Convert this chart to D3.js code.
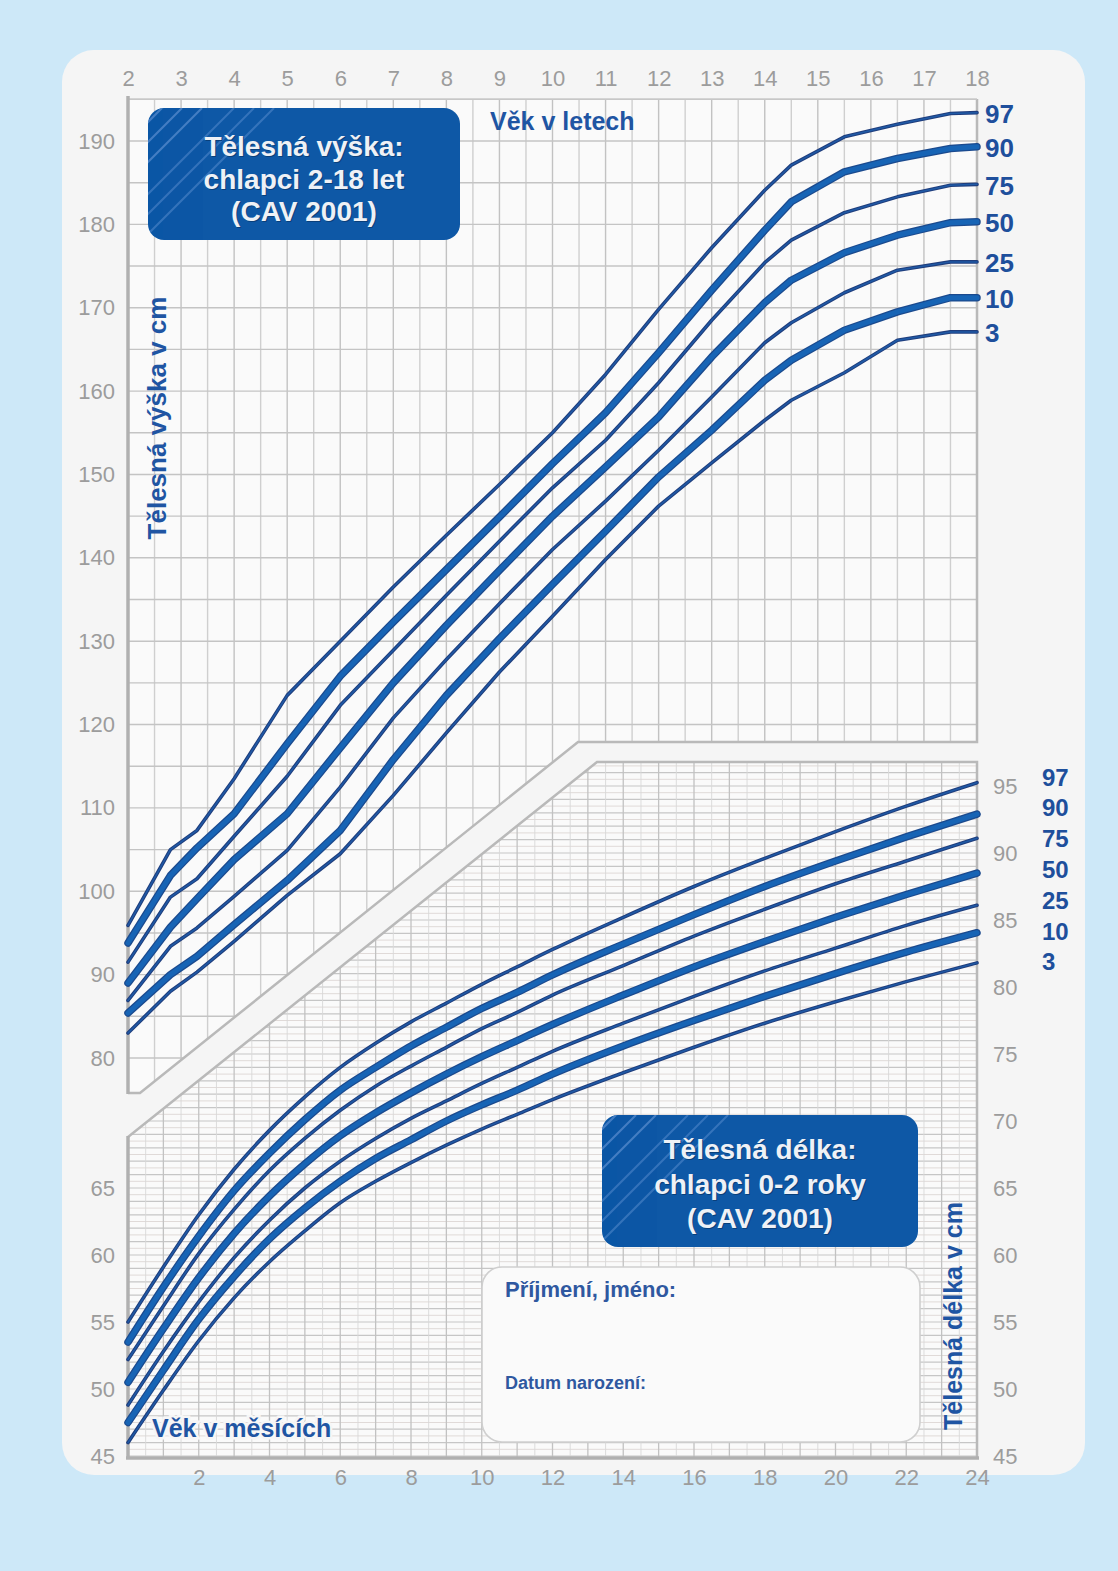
<!DOCTYPE html>
<html><head><meta charset="utf-8">
<script src="https://cdn.jsdelivr.net/npm/d3@7"></script>
<style>
html,body{margin:0;padding:0;background:#cde8f8;}
svg{display:block;}
text{font-family:"Liberation Sans",Arial,Helvetica,sans-serif;}
</style></head><body>
<svg id="chart" width="1118" height="1571"></svg>
<script>
// ---------- DATA ----------
const percentiles = ["97", "90", "75", "50", "25", "10", "3"];
const thickPercentiles = ["90", "50", "10"];

const yearTicks = [2, 3, 4, 5, 6, 7, 8, 9, 10, 11, 12, 13, 14, 15, 16, 17, 18];
const heightTicks = [80, 90, 100, 110, 120, 130, 140, 150, 160, 170, 180, 190];
const monthTicks = [2, 4, 6, 8, 10, 12, 14, 16, 18, 20, 22, 24];
const lengthTicksLeft = [45, 50, 55, 60, 65];
const lengthTicksRight = [45, 50, 55, 60, 65, 70, 75, 80, 85, 90, 95];

// Upper chart: height (cm) by age (years), boys 2-18
const upperAges = [2, 2.8, 3.3, 4, 5, 6, 7, 8, 9, 10, 11, 12, 13, 14, 14.5, 15.5, 16.5, 17.5, 18];
const upperP97 = [95.9, 105.0, 107.3, 113.5, 123.5, 130.0, 136.5, 142.7, 148.8, 155.0, 162.0, 169.8, 177.2, 184.1, 187.1, 190.5, 192.0, 193.3, 193.4];
const upperP90 = [93.8, 101.9, 105.2, 109.3, 117.7, 125.8, 132.3, 138.6, 144.9, 151.3, 157.4, 164.6, 172.1, 179.3, 182.7, 186.3, 187.9, 189.1, 189.3];
const upperP75 = [91.5, 99.3, 101.5, 106.6, 113.8, 122.3, 128.9, 135.5, 142.0, 148.4, 154.1, 161.0, 168.5, 175.4, 178.1, 181.4, 183.3, 184.7, 184.8];
const upperP50 = [89.0, 95.7, 99.1, 103.8, 109.3, 117.2, 125.0, 131.9, 138.5, 145.0, 150.9, 156.9, 164.1, 170.6, 173.3, 176.6, 178.7, 180.2, 180.3];
const upperP25 = [86.9, 93.4, 95.6, 99.4, 104.9, 112.5, 120.8, 127.8, 134.5, 141.0, 146.8, 152.9, 159.3, 165.8, 168.2, 171.8, 174.5, 175.5, 175.5];
const upperP10 = [85.4, 90.0, 92.2, 96.0, 101.3, 107.3, 115.8, 123.5, 130.3, 136.8, 143.2, 149.7, 155.3, 161.3, 163.7, 167.3, 169.5, 171.2, 171.2];
const upperP3  = [83.0, 88.0, 90.3, 94.0, 99.5, 104.5, 111.5, 119.0, 126.3, 133.0, 139.8, 146.2, 151.4, 156.5, 158.9, 162.2, 166.1, 167.1, 167.1];

// Lower chart: length (cm) by age (months), boys 0-24
const lowerMonths = [0, 1, 2, 3, 4, 5, 6, 7, 8, 9, 10, 11, 12, 14, 16, 18, 20, 22, 24];
const lowerP97 = [55.0, 59.1, 63.0, 66.4, 69.3, 71.8, 74.0, 75.8, 77.4, 78.8, 80.2, 81.5, 82.8, 85.2, 87.5, 89.6, 91.6, 93.5, 95.25];
const lowerP90 = [53.5, 57.6, 61.4, 64.8, 67.6, 70.1, 72.3, 74.0, 75.6, 77.0, 78.4, 79.6, 80.9, 83.2, 85.4, 87.5, 89.4, 91.2, 92.9];
const lowerP75 = [52.2, 56.2, 60.1, 63.4, 66.3, 68.7, 70.8, 72.6, 74.1, 75.5, 76.9, 78.1, 79.4, 81.6, 83.8, 85.8, 87.7, 89.4, 91.1];
const lowerP50 = [50.5, 54.5, 58.3, 61.6, 64.4, 66.8, 68.9, 70.6, 72.1, 73.5, 74.8, 76.0, 77.2, 79.4, 81.5, 83.4, 85.2, 86.9, 88.5];
const lowerP25 = [48.8, 52.8, 56.5, 59.8, 62.6, 65.0, 67.0, 68.7, 70.2, 71.5, 72.8, 74.0, 75.2, 77.3, 79.3, 81.2, 82.9, 84.6, 86.1];
const lowerP10 = [47.5, 51.4, 55.2, 58.4, 61.2, 63.5, 65.5, 67.2, 68.6, 70.0, 71.2, 72.3, 73.5, 75.6, 77.5, 79.3, 81.0, 82.6, 84.05];
const lowerP3  = [46.0, 49.9, 53.6, 56.8, 59.5, 61.8, 63.9, 65.5, 66.9, 68.2, 69.4, 70.5, 71.6, 73.6, 75.5, 77.3, 78.9, 80.4, 81.8];

const upperSeries = [upperP97, upperP90, upperP75, upperP50, upperP25, upperP10, upperP3];
const lowerSeries = [lowerP97, lowerP90, lowerP75, lowerP50, lowerP25, lowerP10, lowerP3];

// ---------- LAYOUT ----------
const W = 1118, H = 1571;
const svg = d3.select("#chart");
const FONT = '"Liberation Sans",Arial,Helvetica,sans-serif';
const BLUE_TXT = "#1f55a3";
const GREY_TXT = "#9c9c9c";

const xU = d3.scaleLinear().domain([2, 18]).range([128, 977]);
const yU = d3.scaleLinear().domain([80, 190]).range([1058, 141]);
const xL = d3.scaleLinear().domain([0, 24]).range([128, 977]);
const yL = d3.scaleLinear().domain([45, 95]).range([1456, 786]);

const upperPoly = [[128, 99], [977, 99], [977, 742], [578, 742], [140, 1093], [128, 1093]];
const lowerPoly = [[128, 1137], [597, 762], [977, 762], [977, 1457], [128, 1457]];

// background
svg.append("rect").attr("width", W).attr("height", H).attr("fill", "#cde8f8");
svg.append("rect").attr("x", 62).attr("y", 50).attr("width", 1023).attr("height", 1425)
  .attr("rx", 32).attr("fill", "#f5f5f5");

const defs = svg.append("defs");
defs.append("clipPath").attr("id", "clipU").append("polygon")
  .attr("points", upperPoly.map(p => p.join(",")).join(" "));
defs.append("clipPath").attr("id", "clipL").append("polygon")
  .attr("points", lowerPoly.map(p => p.join(",")).join(" "));

// ---------- UPPER GRID ----------
const gU = svg.append("g").attr("clip-path", "url(#clipU)");
gU.append("polygon").attr("points", upperPoly.map(p => p.join(",")).join(" ")).attr("fill", "#fafafa");
d3.range(2, 18.001, 0.5).forEach(a => {
  gU.append("line").attr("x1", xU(a)).attr("x2", xU(a)).attr("y1", 95).attr("y2", 1100)
    .attr("stroke", Number.isInteger(a) ? "#c2c2c2" : "#cfcfcf").attr("stroke-width", 1.4);
});
d3.range(75, 195.001, 5).forEach(h => {
  gU.append("line").attr("x1", 120).attr("x2", 980).attr("y1", yU(h)).attr("y2", yU(h))
    .attr("stroke", "#c4c4c4").attr("stroke-width", 1.4);
});

// ---------- LOWER GRID ----------
const gL = svg.append("g").attr("clip-path", "url(#clipL)");
gL.append("polygon").attr("points", lowerPoly.map(p => p.join(",")).join(" ")).attr("fill", "#fafafa");
d3.range(45, 97.001, 0.5).forEach(c => {
  const major = Number.isInteger(c);
  gL.append("line").attr("x1", 120).attr("x2", 980).attr("y1", yL(c)).attr("y2", yL(c))
    .attr("stroke", major ? "#c6c6c6" : "#dcd6d4").attr("stroke-width", major ? 1.2 : 0.9);
});
d3.range(0, 24.001, 0.5).forEach(m => {
  const major = Number.isInteger(m);
  gL.append("line").attr("x1", xL(m)).attr("x2", xL(m)).attr("y1", 755).attr("y2", 1460)
    .attr("stroke", major ? "#c2c2c2" : "#d8d8d8").attr("stroke-width", major ? 1.3 : 0.9);
});

// ---------- BORDERS ----------
const border = svg.append("g").attr("fill", "none").attr("stroke", "#b9b9b9");
border.append("polyline").attr("points", "977,99 977,742 578,742 140,1093 128,1093").attr("stroke-width", 2.5);
border.append("polyline").attr("points", "128,1137 597,762 977,762 977,1457").attr("stroke-width", 2.5);
border.append("line").attr("x1", 128).attr("x2", 977).attr("y1", 99).attr("y2", 99).attr("stroke-width", 1.3).attr("stroke", "#c8c8c8");
border.append("line").attr("x1", 128).attr("x2", 128).attr("y1", 96).attr("y2", 1094).attr("stroke-width", 3.5).attr("stroke", "#b0b0b0");
border.append("line").attr("x1", 128).attr("x2", 128).attr("y1", 1136).attr("y2", 1459).attr("stroke-width", 3.5).attr("stroke", "#b0b0b0");
border.append("line").attr("x1", 126).attr("x2", 979).attr("y1", 1458).attr("y2", 1458).attr("stroke-width", 3.5).attr("stroke", "#b0b0b0");

// ---------- AXES (tick labels) ----------
function styleAxis(g) {
  g.select(".domain").remove();
  g.selectAll("line").remove();
  g.selectAll("text").attr("fill", GREY_TXT).style("font-family", FONT).style("font-size", "22px");
}
svg.append("g").attr("transform", "translate(0,99)")
  .call(d3.axisTop(xU).tickValues(yearTicks).tickFormat(d3.format("d")).tickSize(0).tickPadding(13))
  .call(styleAxis);
svg.append("g").attr("transform", "translate(128,0)")
  .call(d3.axisLeft(yU).tickValues(heightTicks).tickFormat(d3.format("d")).tickSize(0).tickPadding(13))
  .call(styleAxis);
svg.append("g").attr("transform", "translate(0,1458)")
  .call(d3.axisBottom(xL).tickValues(monthTicks).tickFormat(d3.format("d")).tickSize(0).tickPadding(11))
  .call(styleAxis);
svg.append("g").attr("transform", "translate(128,0)")
  .call(d3.axisLeft(yL).tickValues(lengthTicksLeft).tickFormat(d3.format("d")).tickSize(0).tickPadding(13))
  .call(styleAxis);
svg.append("g").attr("transform", "translate(977,0)")
  .call(d3.axisRight(yL).tickValues(lengthTicksRight).tickFormat(d3.format("d")).tickSize(0).tickPadding(16))
  .call(styleAxis);

// ---------- CURVES ----------
function drawCurves(g, xs, seriesList, xS, yS, curve) {
  seriesList.forEach((vals, i) => {
    const pts = xs.map((x, j) => [x, vals[j]]);
    const line = d3.line().x(d => xS(d[0])).y(d => yS(d[1])).curve(curve);
    const thick = thickPercentiles.includes(percentiles[i]);
    g.append("path").attr("d", line(pts)).attr("fill", "none")
      .attr("stroke", thick ? "#1b4a8e" : "#1f3d7c").attr("stroke-width", thick ? 7.5 : 3.6)
      .attr("stroke-linejoin", "round").attr("stroke-linecap", "round");
    g.append("path").attr("d", line(pts)).attr("fill", "none")
      .attr("stroke", thick ? "#1764b5" : "#1f5aa6").attr("stroke-width", thick ? 5 : 1.5)
      .attr("stroke-linejoin", "round").attr("stroke-linecap", "round");
  });
}
drawCurves(svg.append("g"), upperAges, upperSeries, xU, yU, d3.curveLinear);
drawCurves(svg.append("g"), lowerMonths, lowerSeries, xL, yL, d3.curveMonotoneX);

// ---------- PERCENTILE LABELS ----------
upperSeries.forEach((vals, i) => {
  svg.append("text").attr("x", 985).attr("y", yU(vals[vals.length - 1]) + 1)
    .attr("dy", "0.36em").attr("fill", "#1e4f9c").attr("font-weight", "bold")
    .style("font-size", "26px").text(percentiles[i]);
});
percentiles.forEach((p, i) => {
  svg.append("text").attr("x", 1042).attr("y", 777 + i * 30.8)
    .attr("dy", "0.36em").attr("fill", "#1e4f9c").attr("font-weight", "bold")
    .style("font-size", "24px").text(p);
});

// ---------- TITLE BOXES ----------
function titleBox(x, y, w, h, lines, centers, cx) {
  const id = "clipBox" + Math.round(x);
  defs.append("clipPath").attr("id", id).append("rect")
    .attr("x", x).attr("y", y).attr("width", w).attr("height", h).attr("rx", 16);
  svg.append("rect").attr("x", x).attr("y", y).attr("width", w).attr("height", h)
    .attr("rx", 16).attr("fill", "#0e58a6");
  const hatch = svg.append("g").attr("clip-path", `url(#${id})`);
  [14, 34, 54, 86, 106, 126].forEach((k, i) => {
    hatch.append("line").attr("x1", x + k).attr("y1", y).attr("x2", x + k - 140).attr("y2", y + 140)
      .attr("stroke", "#5d8fd0").attr("stroke-width", 2).attr("opacity", i < 3 ? 0.7 : 0.5);
  });
  lines.forEach((t, i) => {
    svg.append("text").attr("x", cx + 1).attr("y", centers[i] + 1).attr("dy", "0.36em")
      .attr("text-anchor", "middle").attr("fill", "#0a3f7a").attr("font-weight", "bold")
      .style("font-size", "28px").text(t);
    svg.append("text").attr("x", cx).attr("y", centers[i]).attr("dy", "0.36em")
      .attr("text-anchor", "middle").attr("fill", "#eef1f6").attr("font-weight", "bold")
      .style("font-size", "28px").text(t);
  });
}
titleBox(148, 108, 312, 132, ["Tělesná výška:", "chlapci 2-18 let", "(CAV 2001)"], [146, 179, 211], 304);
titleBox(602, 1115, 316, 132, ["Tělesná délka:", "chlapci 0-2 roky", "(CAV 2001)"], [1149, 1184, 1218], 760);

// ---------- NAME BOX ----------
svg.append("rect").attr("x", 482).attr("y", 1267).attr("width", 438).attr("height", 175)
  .attr("rx", 20).attr("fill", "#fafafa").attr("stroke", "#cfcfcf").attr("stroke-width", 1.6);
svg.append("text").attr("x", 505).attr("y", 1289).attr("dy", "0.36em").attr("fill", "#2f58a0")
  .attr("font-weight", "bold").style("font-size", "22px").text("Příjmení, jméno:");
svg.append("text").attr("x", 505).attr("y", 1383).attr("dy", "0.36em").attr("fill", "#2f58a0")
  .attr("font-weight", "bold").style("font-size", "18px").text("Datum narození:");

// ---------- AXIS TITLES ----------
svg.append("text").attr("x", 490).attr("y", 121).attr("dy", "0.36em").attr("fill", BLUE_TXT)
  .attr("font-weight", "bold").style("font-size", "25px").text("Věk v letech");
svg.append("text").attr("transform", "translate(157,418) rotate(-90)").attr("dy", "0.36em")
  .attr("text-anchor", "middle").attr("fill", BLUE_TXT).attr("font-weight", "bold")
  .style("font-size", "26px").text("Tělesná výška v cm");
svg.append("text").attr("x", 152).attr("y", 1428).attr("dy", "0.36em").attr("fill", BLUE_TXT)
  .attr("font-weight", "bold").style("font-size", "25px")
  .attr("stroke", "#f6f6f6").attr("stroke-width", 5).attr("paint-order", "stroke")
  .text("Věk v měsících");
svg.append("text").attr("transform", "translate(953,1316) rotate(-90)").attr("dy", "0.36em")
  .attr("text-anchor", "middle").attr("fill", BLUE_TXT).attr("font-weight", "bold")
  .style("font-size", "25px").text("Tělesná délka v cm");
</script>
</body></html>
